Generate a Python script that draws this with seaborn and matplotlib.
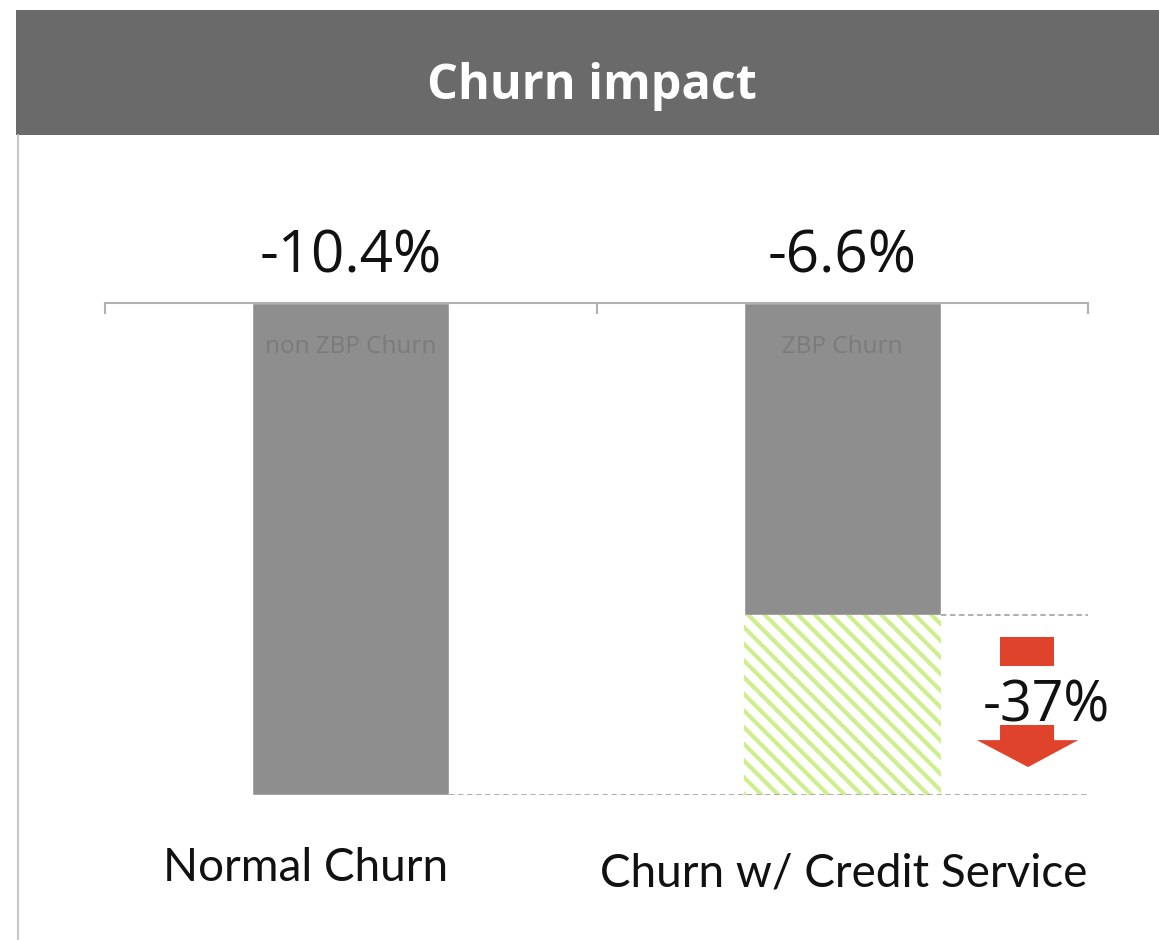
import matplotlib
matplotlib.use('Agg')
import matplotlib.pyplot as plt
from matplotlib.patches import Rectangle, Polygon
from matplotlib.lines import Line2D
from matplotlib.transforms import blended_transform_factory
import seaborn as sns

# chart data
categories = ['Normal Churn', 'Churn w/ Credit Service']
churn = [-10.4, -6.6]
value_labels = ['-10.4%', '-6.6%']
inner_labels = ['non ZBP Churn', 'ZBP Churn']
reduction_label = '-37%'
title = 'Churn impact'

BAR_GREY = '#8e8e8e'
HATCH_GREEN = '#cfee8e'
ARROW_RED = '#e0432b'

sns.set_style('white')
plt.rcParams['font.family'] = ['Open Sans', 'DejaVu Sans']
plt.rcParams['hatch.linewidth'] = 3.0
plt.rcParams['hatch.color'] = HATCH_GREEN

fig = plt.figure(figsize=(11.59, 9.4), dpi=100)

# title banner
fig.add_artist(Rectangle((16 / 1159, 1 - 135 / 940), 1.0, 125 / 940,
                         transform=fig.transFigure, color='#6a6a6a', lw=0))
fig.text(0.511, 1 - 99 / 940, title, color='white', fontsize=35,
         fontweight='bold', ha='center', va='baseline')
# thin frame line on the left
fig.add_artist(Line2D([18 / 1159, 18 / 1159], [0, 1 - 135 / 940],
                      transform=fig.transFigure, color='#c8c8c8', lw=1.5))

ax = fig.add_axes([105 / 1159, 1 - 795 / 940, 983 / 1159, 492 / 940])
sns.barplot(x=categories, y=churn, color=BAR_GREY, saturation=1,
            width=0.4, ax=ax)

# hatched part: the churn that the credit service removes
diff = churn[0] - churn[1]
ax.bar(1, diff, bottom=churn[1], width=0.4, color='none',
       edgecolor=HATCH_GREEN, hatch='\\\\', lw=0)

ax.set_xlim(-0.5, 1.5)
ax.set_ylim(churn[0], 0)

# dashed guide lines
ax.hlines(churn[1], 1.2, 1.5, color='#a8a8a8', lw=1.3,
          linestyle=(0, (3, 2)))
ax.hlines(churn[0], 0.2, 1.5, color='#a8a8a8', lw=1.3,
          linestyle=(0, (3, 2)))

for side in ['left', 'right', 'bottom']:
    ax.spines[side].set_visible(False)
ax.spines['top'].set_color('#b0b0b0')
ax.spines['top'].set_linewidth(1.5)
ax.set_yticks([])
ax.set_xticks([])
ax.set_xticks([-0.5, 0.5, 1.5], minor=True)
ax.tick_params(axis='x', which='minor', top=True, bottom=False,
               direction='in', length=8, width=1.5, color='#b0b0b0')
ax.set_xlabel('')
ax.set_ylabel('')

for i, v in enumerate(churn):
    ax.annotate(value_labels[i], (i, 0), xytext=(0, 22),
                textcoords='offset points', ha='center', va='baseline',
                fontsize=42, color='#111111')
    ax.annotate(inner_labels[i], (i, 0), xytext=(0, -36),
                textcoords='offset points', ha='center', va='baseline',
                fontsize=17.5, color='#7b7b7b')

# category labels under the chart
trans = blended_transform_factory(ax.transData, ax.transAxes)
ax.text(-0.091, -0.175, categories[0], transform=trans, ha='center',
        va='baseline', fontsize=33, family='Lato', color='#111111')
ax.text(1.003, -0.185, categories[1], transform=trans, ha='center',
        va='baseline', fontsize=33, family='Lato', color='#111111')

# red arrow showing the reduction
mid = (churn[0] + churn[1]) / 2
ax.add_patch(Rectangle((1.321, -7.67), 0.11, 0.61, color=ARROW_RED, lw=0,
                       clip_on=False))
ax.add_patch(Polygon([(1.321, -8.92), (1.431, -8.92), (1.431, -9.24),
                      (1.480, -9.24), (1.378, -9.81), (1.274, -9.24),
                      (1.321, -9.24)], closed=True, color=ARROW_RED, lw=0,
                     clip_on=False))
ax.text(1.415, mid - 0.05, reduction_label, ha='center', va='center',
        fontsize=40, color='#111111')

fig.savefig('out.png', dpi=100)
